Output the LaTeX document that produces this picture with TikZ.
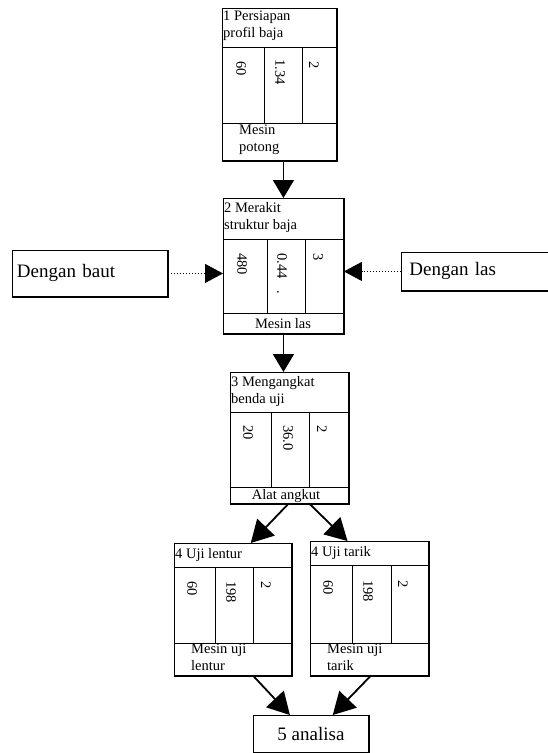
\documentclass[tikz,border=0pt]{standalone}
\usepackage{fontspec}
\setmainfont{Liberation Serif}
\usetikzlibrary{arrows.meta,positioning}

\tikzset{
  box/.style={draw, line width=0.9pt, inner sep=0pt, anchor=north west},
  ttl/.style={anchor=north west, align=left, inner sep=1pt, font=\fontsize{14.5}{17}\selectfont},
  num/.style={rotate=-90, anchor=west, inner sep=0pt, font=\fontsize{14.5}{17}\selectfont},
  lbl/.style={inner sep=0pt, font=\fontsize{14.5}{17}\selectfont},
  big/.style={font=\fontsize{19}{22}\selectfont},
  flow/.style={line width=1.8pt, -{Triangle[length=18pt,width=21pt]}},
  fork/.style={line width=1.8pt, -{Triangle[length=22pt,width=24pt]}},
  side/.style={dotted, line width=1pt, -{Triangle[length=18pt,width=19pt]}},
}

\begin{document}
\begin{tikzpicture}[x=1pt, y=-1pt]
  \useasboundingbox (0,0) rectangle (547,753);

  % 1 persiapan
  \node[box, minimum width=114pt, minimum height=152pt] (p1) at (222,8) {};
  \draw[line width=2pt] (p1.north east) -- (p1.south east) -- (p1.south west);
  \draw[line width=0.9pt] (222,47) -- (336,47) (222,123) -- (336,123) (264,47) -- (264,123) (302,47) -- (302,123);
  \node[ttl] (t1) at (222,10) {1 Persiapan\\profil baja};
  \node[num] (a1) at (241,61) {60};
  \node[num] (b1) at (280,59) {1.34};
  \node[num] (c1) at (314,61) {2};
  \node[ttl] (m1) at (238,124) {Mesin\\potong};

  % 2 merakit
  \node[box, minimum width=120pt, minimum height=135pt] (p2) at (223,198) {};
  \draw[line width=2pt] (p2.north east) -- (p2.south east) -- (p2.south west);
  \draw[line width=0.9pt] (223,239) -- (343,239) (223,313) -- (343,313) (267,239) -- (267,313) (305,239) -- (305,313);
  \node[ttl] (t2) at (223,201) {2 Merakit\\struktur baja};
  \node[num] (a2) at (242,253) {480};
  \node[num] (b2) at (282,253) {0.44\hspace{12pt}.};
  \node[num] (c2) at (318,253) {3};
  \node[lbl] (m2) at (283,324) {Mesin las};

  % 3 mengangkat
  \node[box, minimum width=118pt, minimum height=131pt] (p3) at (230,372) {};
  \draw[line width=2pt] (p3.north east) -- (p3.south east) -- (p3.south west);
  \draw[line width=0.9pt] (230,412) -- (348,412) (230,487) -- (348,487) (271,412) -- (271,487) (309,412) -- (309,487);
  \node[ttl] (t3) at (230,375) {3 Mengangkat\\benda uji};
  \node[num] (a3) at (248,425) {20};
  \node[num] (b3) at (288,425) {36.0};
  \node[num] (c3) at (322,425) {2};
  \node[lbl] (m3) at (286,496) {Alat angkut};

  % 4 uji lentur
  \node[box, minimum width=117pt, minimum height=132pt] (p4a) at (174,543) {};
  \draw[line width=2pt] (p4a.north east) -- (p4a.south east) -- (p4a.south west);
  \draw[line width=0.9pt] (174,567) -- (291,567) (174,643) -- (291,643) (215,567) -- (215,643) (253,567) -- (253,643);
  \node[ttl] (t4a) at (174,547) {4 Uji lentur};
  \node[num] (a4a) at (192,581) {60};
  \node[num] (b4a) at (231,581) {198};
  \node[num] (c4a) at (266,581) {2};
  \node[ttl] (m4a) at (190,643) {Mesin uji\\lentur};

  % 4 uji tarik
  \node[box, minimum width=118pt, minimum height=134pt] (p4b) at (310,541) {};
  \draw[line width=2pt] (p4b.north east) -- (p4b.south east) -- (p4b.south west);
  \draw[line width=0.9pt] (310,565) -- (428,565) (310,643) -- (428,643) (352,565) -- (352,643) (391,565) -- (391,643);
  \node[ttl] (t4b) at (310,545) {4 Uji tarik};
  \node[num] (a4b) at (328,580) {60};
  \node[num] (b4b) at (368,580) {198};
  \node[num] (c4b) at (403,580) {2};
  \node[ttl] (m4b) at (326,643) {Mesin uji\\tarik};

  % 5 analisa
  \node[box, big, minimum width=115pt, minimum height=37pt] (p5) at (253,715) {5 analisa};
  \draw[line width=1.6pt] (p5.north east) -- (p5.south east) -- (p5.south west);

  % sambungan
  \node[box, big, minimum width=155pt, minimum height=46pt, text width=150pt, align=left] (db) at (12,250) {\hspace{2pt}Dengan baut};
  \node[box, big, minimum width=160pt, minimum height=38pt, text width=150pt, align=left] (dl) at (401,252) {\hspace{3pt}Dengan las};
  \draw[line width=1.6pt] (db.north east) -- (db.south east) -- (db.south west);
  \draw[line width=1.6pt] (dl.south east) -- (dl.south west);

  % arrows
  \draw[flow] (p2.north |- p1.south) -- (p2.north);
  \draw[flow] (p2.south) -- (p2.south |- p3.north);
  \draw[fork] (p3.-91) -- (p4a.75);
  \draw[fork] (p3.-73) -- (p4b.108);
  \draw[fork] (p4a.-73) -- (p5.138);
  \draw[fork] (p4b.-89) -- (p5.41);
  \draw[side] (db.east) -- (db.east -| p2.west);
  \draw[side] (dl.west) -- (dl.west -| p2.east);
\end{tikzpicture}
\end{document}
